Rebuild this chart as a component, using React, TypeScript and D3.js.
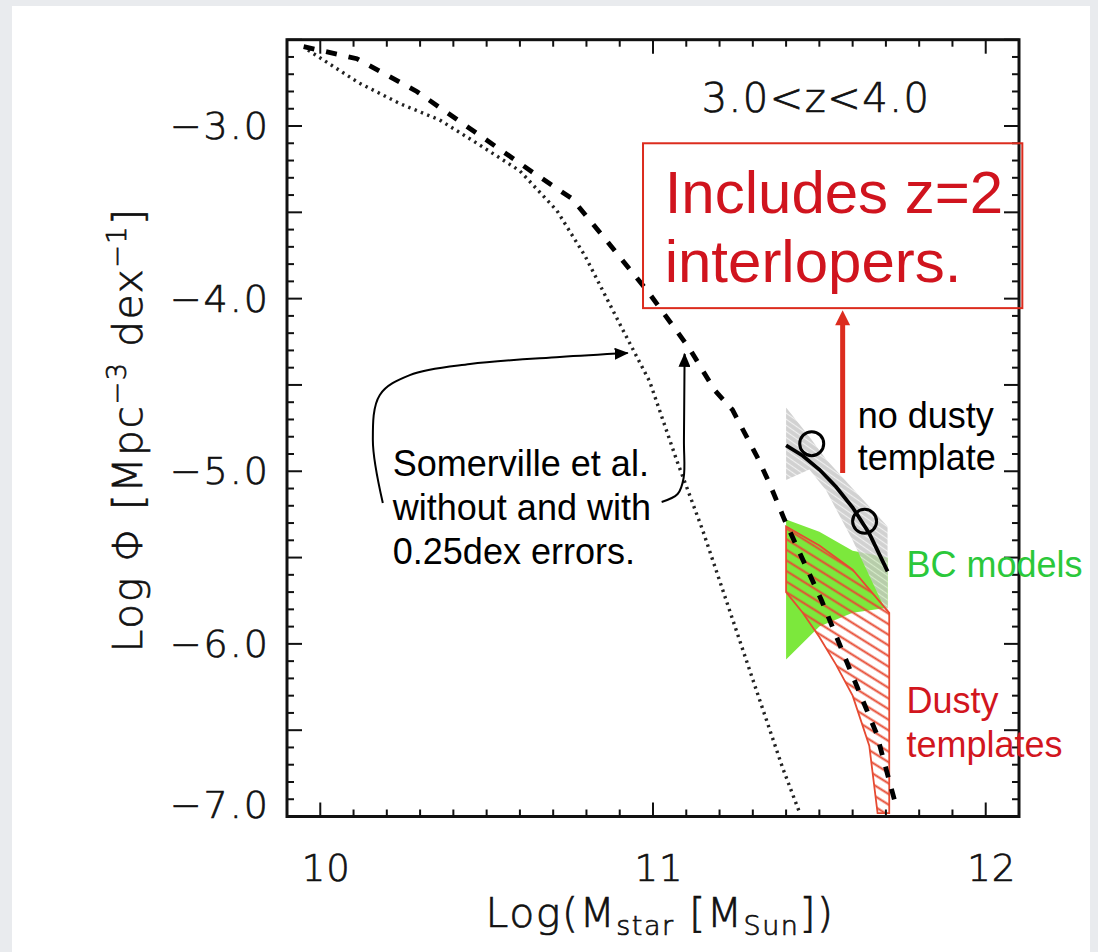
import React from "react";
import * as d3 from "d3";

const W = 1098;
const H = 952;

// Somerville et al. with 0.25dex errors (dashed)
const dashedMass = [9.95, 10.11, 10.29, 10.465, 10.64, 10.756, 10.846, 10.985, 11.11, 11.185, 11.239, 11.314, 11.35, 11.395, 11.507, 11.59, 11.672, 11.732];
const dashedPhi = [-2.54, -2.61, -2.8, -3.035, -3.27, -3.42, -3.63, -3.96, -4.29, -4.53, -4.645, -4.92, -5.07, -5.28, -5.75, -6.14, -6.52, -6.95];

// Somerville et al. without errors (dotted)
const dottedMass = [9.963, 10.116, 10.239, 10.359, 10.479, 10.6, 10.711, 10.795, 10.909, 10.99, 11.071, 11.149, 11.23, 11.311, 11.389, 11.441];
const dottedPhi = [-2.56, -2.75, -2.87, -2.965, -3.11, -3.26, -3.49, -3.75, -4.18, -4.48, -4.935, -5.34, -5.805, -6.27, -6.715, -6.98];

// no dusty template: fit, points and error band
const fitMass = [11.4, 11.45, 11.5, 11.55, 11.6, 11.65, 11.705];
const fitPhi = [-4.85, -4.91, -4.99, -5.09, -5.21, -5.36, -5.58];
const pointMass = [11.477, 11.636];
const pointPhi = [-4.84, -5.29];
const grayMass = [11.4, 11.47, 11.52, 11.6, 11.705];
const grayHi = [-4.63, -4.8, -4.93, -5.1, -5.32];
const grayLo = [-5.05, -4.99, -5.11, -5.4, -5.83];

// BC models
const greenMass = [11.4, 11.5, 11.6, 11.705];
const greenHi = [-5.28, -5.35, -5.46, -5.5];
const greenLo = [-6.09, -5.9, -5.82, -5.79];

// Dusty templates
const redHiMass = [11.4, 11.5, 11.6, 11.71];
const redHi = [-5.32, -5.43, -5.57, -5.82];
const redLoMass = [11.4, 11.45, 11.5, 11.55, 11.6, 11.65, 11.675, 11.71];
const redLo = [-5.7, -5.82, -5.96, -6.12, -6.3, -6.59, -6.98, -6.98];

// axes
const xLabels = [10, 11, 12];
const yLabels = [-3, -4, -5, -6, -7];

// annotation anchors (data units)
const arrow1 = [[10.188, -5.184], [10.158, -4.819], [10.179, -4.558], [10.269, -4.443], [10.45, -4.379], [10.72, -4.338], [10.924, -4.315]];
const arrow2 = [[11.026, -5.178], [11.074, -5.132], [11.092, -5.039], [11.093, -4.819], [11.095, -4.32]];

const x = d3.scaleLinear().domain([9.9, 12.1]).range([287, 1019]);
const y = d3.scaleLinear().domain([-7, -2.5]).range([816.5, 39.7]);

const line = d3
  .line<number[]>()
  .x((d) => x(d[0]))
  .y((d) => y(d[1]));
const smooth = d3
  .line<number[]>()
  .curve(d3.curveCatmullRom.alpha(0.5))
  .x((d) => x(d[0]))
  .y((d) => y(d[1]));

const zip = (a: number[], b: number[]) => a.map((v, i) => [v, b[i]]);
const band = (xa: number[], hi: number[], xb: number[], lo: number[]) =>
  line([...zip(xa, hi), ...zip(xb, lo).reverse()]) + "Z";

const axisFont = "'DejaVu Sans', sans-serif";
const noteFont = "'Liberation Sans', Arial, sans-serif";
const fmt = d3.format(".1f");
const axisText = {
  fontFamily: axisFont,
  fontWeight: 200,
  fill: "#111",
  stroke: "#111",
  strokeWidth: 0.7,
};

export default function App() {
  const x0 = x.range()[0];
  const x1 = x.range()[1];
  const y0 = y.range()[0];
  const y1 = y.range()[1];

  const xMinor = d3.range(99, 122).map((i) => i / 10);
  const yMinor = d3.range(-70, -24).map((i) => i / 10);
  const isInt = (v: number) => Math.abs(v - Math.round(v)) < 1e-6;
  const isHalf = (v: number) => Math.abs(v * 2 - Math.round(v * 2)) < 1e-6;

  return (
    <svg
      width={W}
      height={H}
      style={{ position: "absolute", left: 0, top: 0, display: "block" }}
    >
      <defs>
        <clipPath id="frame">
          <rect x={x0} y={y1} width={x1 - x0} height={y0 - y1} />
        </clipPath>
        <pattern id="redHatch" width={9} height={9} patternUnits="userSpaceOnUse" patternTransform="rotate(32)">
          <line x1={0} y1={4.5} x2={9} y2={4.5} stroke="#e64a32" strokeWidth={2} />
        </pattern>
        <pattern id="grayHatch" width={5} height={5} patternUnits="userSpaceOnUse" patternTransform="rotate(35)">
          <rect width={5} height={5} fill="#c6c6c6" />
          <line x1={0} y1={2.5} x2={5} y2={2.5} stroke="#ececec" strokeWidth={1.1} />
        </pattern>
        <marker id="blackHead" viewBox="0 0 14 12" refX={13} refY={6} markerWidth={14} markerHeight={12} markerUnits="userSpaceOnUse" orient="auto">
          <path d="M0,0 L14,6 L0,12 Z" fill="#000" />
        </marker>
      </defs>

      <rect width={W} height={H} fill="#e9ebee" />
      <rect x={12} y={6} width={1078} height={H} fill="#fff" />

      <g clipPath="url(#frame)">
        <path d={band(greenMass, greenHi, greenMass, greenLo)} fill="#7ce83c" />
        <path d={band(grayMass, grayHi, grayMass, grayLo)} fill="url(#grayHatch)" opacity={0.8} />
        <path d={band(redHiMass, redHi, redLoMass, redLo)} fill="url(#redHatch)" stroke="#e64a32" strokeWidth={1.8} />
        <path d={line(zip(dottedMass, dottedPhi)) ?? ""} fill="none" stroke="#222" strokeWidth={3.4} strokeDasharray="2.4 4.4" />
        <path d={line(zip(dashedMass, dashedPhi)) ?? ""} fill="none" stroke="#000" strokeWidth={4.8} strokeDasharray="11 12" />
        <path d={line(zip(fitMass, fitPhi)) ?? ""} fill="none" stroke="#000" strokeWidth={3.8} />
        {pointMass.map((m, i) => (
          <circle key={i} cx={x(m)} cy={y(pointPhi[i])} r={12} fill="none" stroke="#000" strokeWidth={3} />
        ))}
      </g>

      {/* frame and ticks */}
      <rect x={x0} y={y1} width={x1 - x0} height={y0 - y1} fill="none" stroke="#111" strokeWidth={3} />
      {xMinor.map((v) => {
        const len = isInt(v) ? 14 : 7;
        return (
          <g key={"xt" + v} stroke="#111" strokeWidth={2}>
            <line x1={x(v)} x2={x(v)} y1={y0} y2={y0 - len} />
            <line x1={x(v)} x2={x(v)} y1={y1} y2={y1 + len} />
          </g>
        );
      })}
      {yMinor.map((v) => {
        const len = isHalf(v) ? 15 : 7;
        return (
          <g key={"yt" + v} stroke="#111" strokeWidth={2}>
            <line x1={x0} x2={x0 + len} y1={y(v)} y2={y(v)} />
            <line x1={x1} x2={x1 - len} y1={y(v)} y2={y(v)} />
          </g>
        );
      })}
      {xLabels.map((v) => (
        <text key={"xl" + v} x={x(v) + 6} y={881} textAnchor="middle" fontSize={37} letterSpacing={1} {...axisText}>
          {v}
        </text>
      ))}
      {yLabels.map((v) => (
        <text key={"yl" + v} x={270} y={Math.min(y(v), 805) + 13} textAnchor="end" fontSize={38} letterSpacing={2} {...axisText}>
          {fmt(v)}
        </text>
      ))}

      <text x={660} y={927} textAnchor="middle" fontSize={41} letterSpacing={1.5} {...axisText}>
        Log(M<tspan dy={8} fontSize={27}>star</tspan>
        <tspan dy={-8}> [M</tspan>
        <tspan dy={8} fontSize={27}>Sun</tspan>
        <tspan dy={-8}>])</tspan>
      </text>
      <text transform="translate(142,430) rotate(-90)" textAnchor="middle" fontSize={41} letterSpacing={1.5} {...axisText}>
        Log Φ [Mpc<tspan dy={-16} fontSize={27}>−3</tspan>
        <tspan dy={16}> dex</tspan>
        <tspan dy={-16} fontSize={27}>−1</tspan>
        <tspan dy={16}>]</tspan>
      </text>

      <text x={x(11.49)} y={y(-2.92)} textAnchor="middle" fontSize={40} letterSpacing={1.5} {...axisText}>
        3.0&lt;z&lt;4.0
      </text>

      {/* red box annotation */}
      <rect x={x(10.97)} y={y(-3.1)} width={x(12.11) - x(10.97)} height={y(-4.055) - y(-3.1)} fill="none" stroke="#dc2c1e" strokeWidth={2} />
      <g fontFamily={noteFont} fontSize={60} fill="#d0141e">
        <text x={x(11.035)} y={y(-3.504)}>Includes z=2</text>
        <text x={x(11.035)} y={y(-3.904)}>interlopers.</text>
      </g>
      <line x1={x(11.57)} x2={x(11.57)} y1={y(-5.01)} y2={y(-4.14)} stroke="#dc2c1e" strokeWidth={5} />
      <path
        d={`M${x(11.57)},${y(-4.067)} L${x(11.57) + 7.5},${y(-4.067) + 15} L${x(11.57) - 7.5},${y(-4.067) + 15} Z`}
        fill="#dc2c1e"
      />

      {/* Somerville arrows */}
      <path d={smooth(arrow1) ?? ""} fill="none" stroke="#000" strokeWidth={2} markerEnd="url(#blackHead)" />
      <path d={smooth(arrow2) ?? ""} fill="none" stroke="#000" strokeWidth={2} markerEnd="url(#blackHead)" />

      <g fontFamily={noteFont} fontSize={36} fill="#000">
        <text x={x(10.218)} y={y(-5.028)}>Somerville et al.</text>
        <text x={x(10.218)} y={y(-5.283)}>without and with</text>
        <text x={x(10.218)} y={y(-5.538)}>0.25dex errors.</text>
        <text x={x(11.615)} y={y(-4.749)}>no dusty</text>
        <text x={x(11.615)} y={y(-4.993)}>template</text>
      </g>
      <text x={x(11.762)} y={y(-5.612)} fontFamily={noteFont} fontSize={36} fill="#2bc83a">
        BC models
      </text>
      <g fontFamily={noteFont} fontSize={36} fill="#d2161e">
        <text x={x(11.762)} y={y(-6.401)}>Dusty</text>
        <text x={x(11.762)} y={y(-6.656)}>templates</text>
      </g>
    </svg>
  );
}
